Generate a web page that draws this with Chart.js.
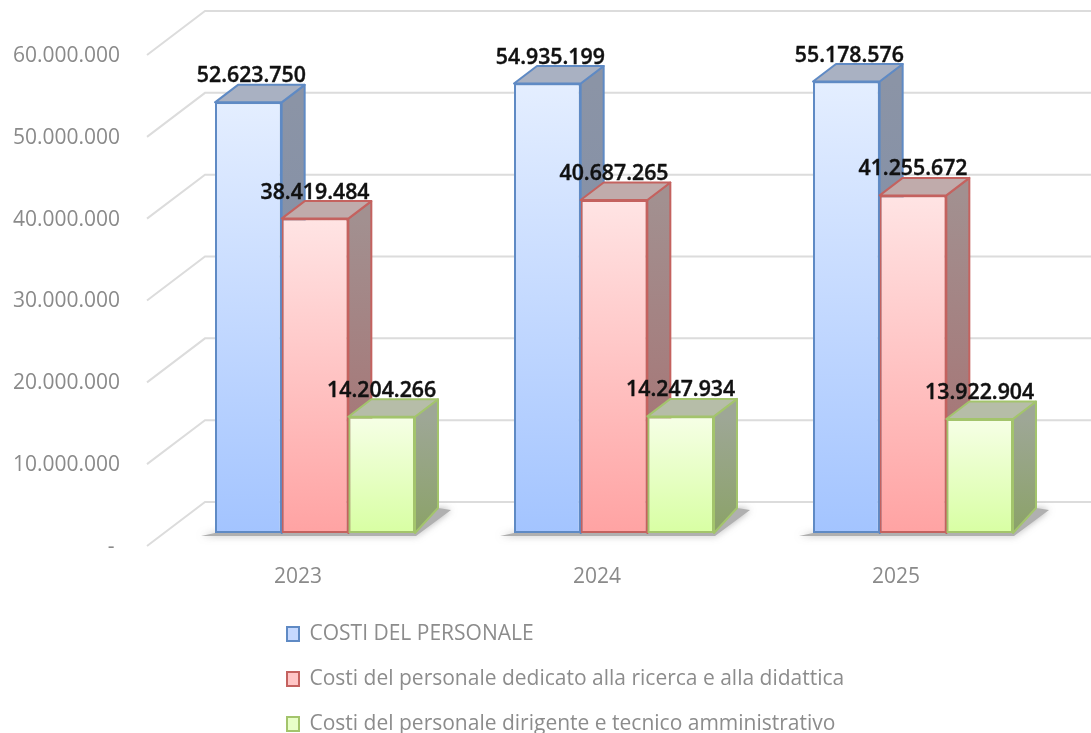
<!DOCTYPE html>
<html><head><meta charset="utf-8">
<style>html,body{margin:0;padding:0;background:#fff}canvas{display:block;filter:blur(0.7px)}</style>
<script src="https://cdn.jsdelivr.net/npm/chart.js@4"></script>
</head><body><canvas id="c" width="1091" height="733"></canvas>
<script>
const years = ['2023', '2024', '2025'];
const seriesNames = ['COSTI DEL PERSONALE', 'Costi del personale dedicato alla ricerca e alla didattica', 'Costi del personale dirigente e tecnico amministrativo'];
const costiPersonale = [52623750, 54935199, 55178576];
const costiRicerca = [38419484, 40687265, 41255672];
const costiDirigenti = [14204266, 14247934, 13922904];

const FONT = '"Open Sans", "Liberation Sans", sans-serif';
const styles = [
  {top:'#e4eeff', bottom:'#a3c4ff', legend:'#c6d9ff', border:'#5f8ac4', sideTop:'#8b94a6', sideBottom:'#7a8aa8', cap:'#a9b1c2', dx:3},
  {top:'#ffe4e4', bottom:'#ffa3a3', legend:'#ffc6c6', border:'#c4625f', sideTop:'#a29090', sideBottom:'#a86c6c', cap:'#c0abab', dx:0},
  {top:'#f6ffe6', bottom:'#d8ffa3', legend:'#e8ffc8', border:'#a3c46c', sideTop:'#9ea796', sideBottom:'#8ba268', cap:'#b6bda8', dx:0}
];
const DEPTH_X = 23, DEPTH_TOP = 17.5, DEPTH_BASE = 25;
const fmt = v => String(v).replace(/\B(?=(\d{3})+$)/g, '.');

const frontFill = i => ctx => {
  if (ctx.type !== 'data') return styles[i].legend;
  const y = ctx.chart.scales.y;
  if (!y) return styles[i].legend;
  const a = y.getPixelForValue(ctx.raw), b = y.getPixelForValue(0);
  if (!isFinite(a) || !isFinite(b)) return styles[i].legend;
  const g = ctx.chart.ctx.createLinearGradient(0, a, 0, b);
  g.addColorStop(0, styles[i].top); g.addColorStop(1, styles[i].bottom);
  return g;
};

function poly(c, pts, fill, stroke) {
  c.beginPath();
  pts.forEach((p, i) => i ? c.lineTo(p[0], p[1]) : c.moveTo(p[0], p[1]));
  c.closePath();
  c.fillStyle = fill; c.fill();
  if (stroke) { c.strokeStyle = stroke; c.lineWidth = 2; c.lineJoin = 'round'; c.stroke(); }
}

const scene = {
  id: 'scene',
  beforeDraw(chart) {
    const lg = chart.legend;
    lg.left = 263; lg.right = 900; lg.top = 599.5; lg.bottom = 800; lg.width = 637; lg.height = 200.5;
  },
  beforeDatasetsDraw(chart) {
    const c = chart.ctx, y = chart.scales.y, W = chart.width;
    c.save();
    c.strokeStyle = '#dcdcdc'; c.lineWidth = 2; c.lineJoin = 'miter';
    y.ticks.forEach(t => {
      const p = y.getPixelForValue(t.value);
      c.beginPath(); c.moveTo(147, p + 13); c.lineTo(205, p - 31); c.lineTo(W, p - 31); c.stroke();
    });
    const m0 = chart.getDatasetMeta(0), m2 = chart.getDatasetMeta(2);
    years.forEach((_, i) => {
      const l = m0.data[i].x - m0.data[i].width / 2, r = m2.data[i].x + m2.data[i].width / 2, b = y.getPixelForValue(0);
      c.save(); c.shadowColor = 'rgba(120,120,120,.6)'; c.shadowBlur = 7;
      poly(c, [[l - 14, b + 3], [r + 1, b + 3], [r + 36, b - 23], [r + 23, b - 25], [r, b], [l, b]], '#b0b0b0');
      c.restore();
    });
    [0, 1, 2].forEach(d => {
      const meta = chart.getDatasetMeta(d), s = styles[d];
      meta.data.forEach(bar => {
        const l = bar.x - bar.width / 2, r = bar.x + bar.width / 2, t = bar.y, b = bar.base;
        const g = c.createLinearGradient(0, t, 0, b);
        g.addColorStop(0, s.sideTop); g.addColorStop(1, s.sideBottom);
        poly(c, [[r, t], [r + DEPTH_X, t - DEPTH_TOP], [r + DEPTH_X, b - DEPTH_BASE], [r, b]], g, s.border);
        poly(c, [[l, t], [l + DEPTH_X, t - DEPTH_TOP], [r + DEPTH_X, t - DEPTH_TOP], [r, t]], s.cap, s.border);
      });
      meta.controller.draw();
    });
    c.restore();
    return false;
  },
  afterDraw(chart) {
    const c = chart.ctx;
    c.save();
    c.font = '600 21.3px ' + FONT; c.fillStyle = '#111'; c.strokeStyle = '#111'; c.lineWidth = 0.4;
    c.textAlign = 'center'; c.textBaseline = 'middle';
    [0, 1, 2].forEach(d => chart.getDatasetMeta(d).data.forEach((bar, i) => {
      const txt = fmt(chart.data.datasets[d].data[i]);
      c.fillText(txt, bar.x + styles[d].dx, bar.y - 26);
      c.strokeText(txt, bar.x + styles[d].dx, bar.y - 26);
    }));
    c.restore();
  }
};

const mk = (i, data) => ({
  label: seriesNames[i], data,
  backgroundColor: frontFill(i), borderColor: styles[i].border, borderWidth: 2, borderSkipped: false,
  categoryPercentage: 200 / 299, barPercentage: 1
});

const chart = new Chart(document.getElementById('c'), {
  type: 'bar',
  data: { labels: years, datasets: [mk(0, costiPersonale), mk(1, costiRicerca), mk(2, costiDirigenti)] },
  options: {
    responsive: false, animation: false, devicePixelRatio: 1,
    layout: { padding: { top: 42, right: 28.5, left: 0, bottom: 0 } },
    scales: {
      x: {
        grid: { display: false }, border: { display: false },
        afterFit: s => { s.height = 200; s.paddingLeft = 0; s.paddingRight = 0; },
        ticks: { color: '#8a8a8a', font: { family: FONT, size: 21 }, padding: 23, labelOffset: -17, maxRotation: 0 }
      },
      y: {
        min: 0, max: 60000000,
        grid: { display: false, drawTicks: false }, border: { display: false },
        afterFit: s => { s.width = 165.5; s.paddingTop = 0; s.paddingBottom = 0; },
        ticks: { stepSize: 10000000, color: '#8a8a8a', font: { family: FONT, size: 21 }, padding: 45.5, labelOffset: 14,
          callback: v => v === 0 ? '- ' : fmt(v) }
      }
    },
    plugins: {
      tooltip: { enabled: false },
      legend: {
        position: 'left', align: 'start',
        labels: { boxWidth: 12, boxHeight: 14, padding: 24, color: '#8c8c8c', font: { family: FONT, size: 21 },
          generateLabels: chart => Chart.defaults.plugins.legend.labels.generateLabels(chart)
            .map(it => ({ ...it, fillStyle: styles[it.datasetIndex].legend })) }
      }
    }
  },
  plugins: [{
    id: 'legendNoSpace',
    beforeLayout(chart) {
      const lg = chart.legend;
      if (lg && !lg._patched) {
        const orig = lg.fit;
        lg.fit = function () { orig.call(this); this.width = 0; };
        lg._patched = true;
      }
    }
  }, scene]
});
</script></body></html>
